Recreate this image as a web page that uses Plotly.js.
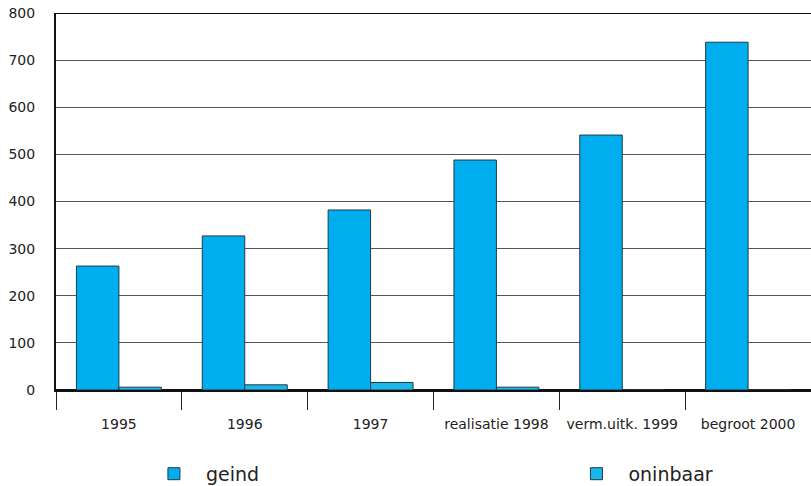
<!DOCTYPE html>
<html>
<head>
<meta charset="utf-8">
<script src="https://cdn.plot.ly/plotly-3.0.1.min.js"></script>
<style>html,body{margin:0;padding:0;background:#fff;}#chart{width:811px;height:486px;}</style>
</head>
<body>
<div id="chart"></div>
<script>
var categories = ["1995", "1996", "1997", "realisatie 1998", "verm.uitk. 1999", "begroot 2000"];
var geind = [263, 327, 382, 488, 541, 738];
var oninbaar = [6, 11, 16, 6, 0, 0];
var yTicks = [0, 100, 200, 300, 400, 500, 600, 700, 800];

var traces = [
  {type: "bar", name: "geind", x: categories, y: geind, legend: "legend",
   marker: {color: "#00AEEF", line: {color: "#1f3b4a", width: 1}}},
  {type: "bar", name: "oninbaar", x: categories, y: oninbaar, legend: "legend2",
   marker: {color: "#1CB6EA", line: {color: "#1f3b4a", width: 1}}}
];

var legendBase = {orientation: "h", xref: "container", yref: "container", xanchor: "left",
                  yanchor: "middle", y: 0.025, font: {size: 19, color: "#222"}, itemwidth: 54,
                  bgcolor: "rgba(0,0,0,0)"};

var layout = {
  width: 811, height: 486,
  margin: {l: 56, r: 0, t: 13, b: 96, autoexpand: false},
  paper_bgcolor: "#fff", plot_bgcolor: "#fff",
  barmode: "group", bargap: 0.325, bargroupgap: 0,
  font: {family: "DejaVu Sans, sans-serif", size: 14, color: "#222"},
  showlegend: true,
  legend: Object.assign({}, legendBase, {x: 0.175}),
  legend2: Object.assign({}, legendBase, {x: 0.696}),
  xaxis: {type: "category", tickson: "boundaries", ticks: "outside", ticklen: 18, tickwidth: 1,
          tickcolor: "#222", showline: true, linecolor: "#111", linewidth: 2,
          showgrid: false, tickfont: {size: 14}, ticklabelstandoff: 20, fixedrange: true},
  yaxis: {range: [0, 800], tickvals: yTicks, ticktext: yTicks.map(String), showgrid: true,
          gridcolor: "#555", gridwidth: 1, zeroline: true, zerolinecolor: "#111", zerolinewidth: 2,
          showline: true, linecolor: "#111", linewidth: 2, ticks: "", ticklabelstandoff: 16,
          tickfont: {size: 14}},
  shapes: [{type: "line", xref: "paper", yref: "y", x0: 0, x1: 1, y0: 800, y1: 800,
            line: {color: "#111", width: 2}}]
};

Plotly.newPlot("chart", traces, layout, {displayModeBar: false, staticPlot: true});
</script>
</body>
</html>
